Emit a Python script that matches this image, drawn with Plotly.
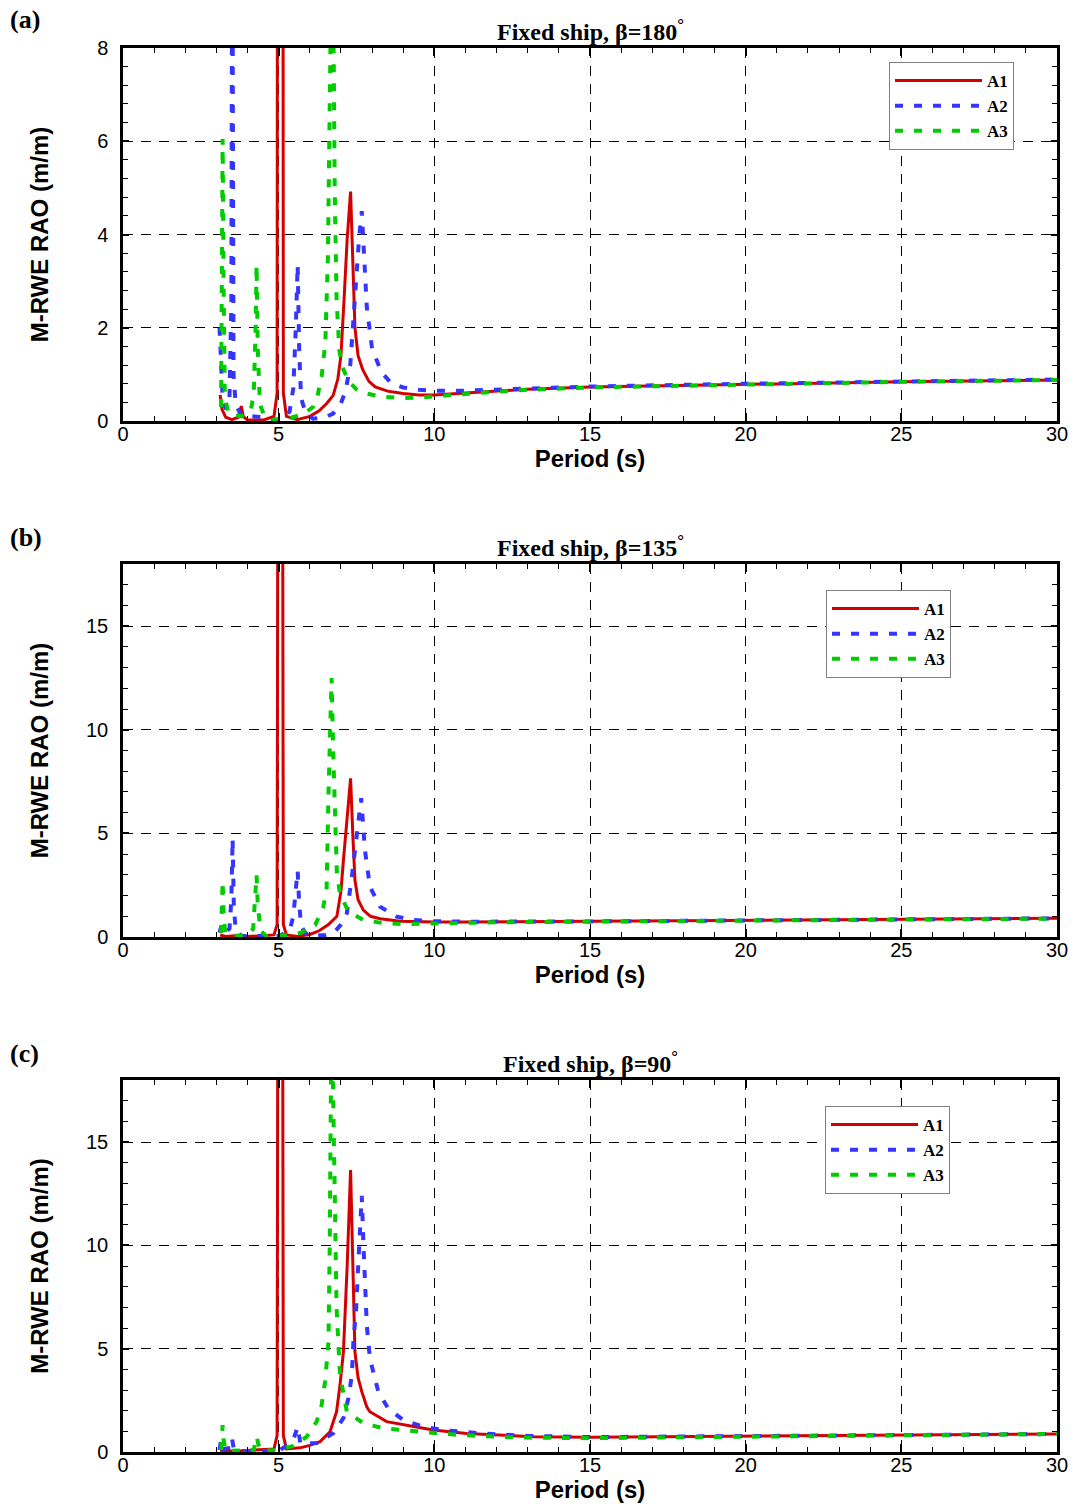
import plotly.graph_objects as go

# ---------------- data ----------------
# Panel (a) beta = 180
t_a1_180 = [3.12, 3.18, 3.3, 3.5, 3.7, 3.8, 3.86, 4.0, 4.5, 4.85, 4.95, 4.99, 5.11, 5.15, 5.25, 5.6, 6.0, 6.3, 6.55, 6.75, 6.9, 7.0, 7.1, 7.2, 7.31, 7.38, 7.45, 7.55, 7.7, 7.9, 8.1, 8.5, 9.0, 9.5, 10, 11, 12, 13, 15, 20, 25, 30]
r_a1_180 = [0.56, 0.25, 0.08, 0.03, 0.08, 0.32, 0.1, 0.02, 0.02, 0.1, 0.6, 40, 40, 0.6, 0.1, 0.03, 0.1, 0.22, 0.38, 0.55, 0.9, 1.4, 2.6, 3.9, 4.92, 3.3, 2.0, 1.4, 1.1, 0.85, 0.73, 0.64, 0.59, 0.56, 0.56, 0.6, 0.64, 0.68, 0.73, 0.79, 0.84, 0.88]

t_a2_180 = [3.1, 3.2, 3.3, 3.42, 3.48, 3.51, 3.55, 3.62, 3.8, 4.2, 4.5, 4.8, 5.1, 5.35, 5.47, 5.55, 5.61, 5.66, 5.72, 5.85, 6.1, 6.5, 6.75, 7.0, 7.15, 7.3, 7.45, 7.58, 7.67, 7.73, 7.83, 8.0, 8.3, 8.6, 9.0, 9.5, 10, 11, 12, 13, 15, 20, 25, 30]
r_a2_180 = [2.0, 0.5, 0.25, 0.5, 2.5, 12, 1.0, 0.35, 0.12, 0.1, 0.08, 0.02, 0.05, 0.2, 0.7, 2.0, 3.35, 1.5, 0.5, 0.2, 0.05, 0.08, 0.16, 0.38, 0.65, 1.2, 2.7, 3.9, 4.5, 3.6, 2.45, 1.55, 1.05, 0.82, 0.72, 0.67, 0.65, 0.65, 0.67, 0.69, 0.74, 0.8, 0.85, 0.89]

t_a3_180 = [3.15, 3.18, 3.2, 3.23, 3.27, 3.4, 3.8, 4.1, 4.2, 4.26, 4.29, 4.33, 4.4, 4.55, 4.8, 5.3, 5.8, 6.1, 6.25, 6.38, 6.5, 6.58, 6.63, 6.7, 6.76, 6.8, 6.86, 6.95, 7.05, 7.25, 7.5, 7.75, 8.3, 9.0, 9.5, 10, 11, 12, 13, 15, 20, 25, 30]
r_a3_180 = [0.3, 3.0, 6.05, 3.0, 0.5, 0.15, 0.1, 0.2, 0.6, 2.0, 3.35, 1.5, 0.35, 0.1, 0.02, 0.05, 0.15, 0.3, 0.55, 0.95, 1.7, 3.5, 6.0, 10, 8.5, 5.0, 2.6, 1.5, 1.15, 0.85, 0.68, 0.6, 0.52, 0.49, 0.5, 0.52, 0.58, 0.63, 0.67, 0.72, 0.79, 0.84, 0.88]

# Panel (b) beta = 135
t_a1_135 = [3.12, 3.3, 3.8, 4.0, 4.85, 4.95, 4.99, 5.11, 5.15, 5.25, 5.6, 6.0, 6.3, 6.6, 6.87, 7.0, 7.08, 7.19, 7.31, 7.38, 7.45, 7.55, 7.72, 7.95, 8.26, 8.9, 9.5, 10, 11, 12, 15, 20, 25, 30]
r_a1_135 = [0.1, 0.03, 0.08, 0.02, 0.1, 0.6, 40, 40, 0.6, 0.1, 0.03, 0.12, 0.3, 0.6, 1.0, 2.2, 3.7, 5.6, 7.66, 5.0, 2.75, 1.8, 1.3, 1.0, 0.88, 0.76, 0.72, 0.72, 0.72, 0.73, 0.75, 0.8, 0.85, 0.9]

t_a2_135 = [3.1, 3.15, 3.25, 3.42, 3.48, 3.52, 3.56, 3.62, 3.8, 4.5, 5.0, 5.35, 5.47, 5.55, 5.61, 5.66, 5.72, 5.85, 6.1, 6.5, 6.8, 7.0, 7.19, 7.35, 7.5, 7.65, 7.77, 7.93, 8.26, 8.79, 9.3, 10, 11, 12, 15, 20, 25, 30]
r_a2_135 = [0.2, 0.5, 0.15, 0.4, 1.8, 4.75, 1.5, 0.3, 0.05, 0.03, 0.05, 0.3, 1.0, 2.3, 3.2, 1.6, 0.55, 0.2, 0.05, 0.1, 0.25, 0.6, 1.15, 2.9, 4.84, 6.7, 4.2, 2.43, 1.46, 0.98, 0.82, 0.76, 0.74, 0.74, 0.75, 0.8, 0.85, 0.9]

t_a3_135 = [3.15, 3.18, 3.2, 3.23, 3.28, 3.5, 4.0, 4.18, 4.25, 4.29, 4.33, 4.42, 4.6, 5.3, 5.7, 6.17, 6.43, 6.54, 6.6, 6.7, 6.76, 6.81, 6.87, 6.97, 7.24, 7.72, 8.36, 9.0, 10, 11, 12, 15, 20, 25, 30]
r_a3_135 = [0.2, 1.5, 2.7, 1.3, 0.2, 0.05, 0.08, 0.4, 1.8, 3.0, 1.5, 0.3, 0.05, 0.08, 0.2, 0.58, 1.4, 2.35, 6.93, 12.5, 8.5, 5.3, 3.07, 2.1, 1.22, 0.82, 0.67, 0.62, 0.63, 0.68, 0.71, 0.74, 0.79, 0.84, 0.89]

# Panel (c) beta = 90
t_a1_90 = [3.12, 3.8, 4.85, 4.95, 4.99, 5.11, 5.15, 5.25, 5.69, 6.0, 6.33, 6.65, 6.86, 6.97, 7.08, 7.2, 7.31, 7.38, 7.45, 7.55, 7.67, 7.83, 7.93, 8.47, 8.9, 9.96, 11.04, 12.1, 13.2, 15, 18.3, 20, 25, 30]
r_a1_90 = [0.05, 0.06, 0.15, 0.8, 40, 40, 0.8, 0.15, 0.2, 0.32, 0.5, 0.98, 1.95, 3.24, 4.85, 9.0, 13.64, 9.0, 4.85, 3.6, 2.92, 2.19, 1.95, 1.47, 1.35, 1.06, 0.9, 0.82, 0.74, 0.71, 0.74, 0.76, 0.82, 0.87]

t_a2_90 = [3.1, 3.15, 3.22, 3.45, 3.5, 3.56, 3.8, 5.0, 5.45, 5.61, 5.7, 6.22, 6.76, 7.08, 7.24, 7.35, 7.4, 7.49, 7.56, 7.61, 7.67, 7.72, 7.77, 7.83, 7.93, 8.2, 8.52, 9.0, 9.65, 10.29, 11.47, 13, 15, 20, 25, 30]
r_a2_90 = [0.1, 0.6, 0.15, 0.2, 0.66, 0.15, 0.05, 0.05, 0.5, 1.22, 0.4, 0.43, 0.92, 1.64, 2.6, 3.72, 5.33, 6.96, 9.2, 11.1, 12.4, 10.17, 7.75, 6.14, 4.53, 2.92, 2.1, 1.55, 1.22, 1.06, 0.9, 0.78, 0.72, 0.76, 0.82, 0.87]

t_a3_90 = [3.15, 3.18, 3.2, 3.23, 3.3, 4.2, 4.27, 4.3, 4.34, 4.45, 5.0, 5.47, 5.9, 6.22, 6.38, 6.49, 6.6, 6.64, 6.7, 6.76, 6.81, 6.86, 6.97, 7.19, 7.72, 8.36, 9.54, 10.83, 12.65, 15, 20, 25, 30]
r_a3_90 = [0.1, 0.7, 1.3, 0.6, 0.05, 0.1, 0.5, 0.75, 0.4, 0.05, 0.1, 0.3, 0.74, 1.47, 2.27, 3.4, 5.33, 10, 22, 16.6, 11.8, 6.96, 3.72, 1.95, 1.39, 1.15, 0.98, 0.82, 0.7, 0.67, 0.74, 0.81, 0.87]

series_names = ["A1", "A2", "A3"]
panel_labels = ["(a)", "(b)", "(c)"]
panel_titles = ["Fixed ship, β=180<sup>°</sup>", "Fixed ship, β=135<sup>°</sup>", "Fixed ship, β=90<sup>°</sup>"]
x_label = "Period (s)"
y_label = "M-RWE RAO (m/m)"

panels = [
    [(t_a1_180, r_a1_180), (t_a2_180, r_a2_180), (t_a3_180, r_a3_180)],
    [(t_a1_135, r_a1_135), (t_a2_135, r_a2_135), (t_a3_135, r_a3_135)],
    [(t_a1_90, r_a1_90), (t_a2_90, r_a2_90), (t_a3_90, r_a3_90)],
]

# ---------------- styling / layout ----------------
W, H = 1072, 1504
ML, MR, MT, MB = 123, 15, 48, 52
PH = H - MT - MB

def py2paper(py):
    return (H - MB - py) / PH

def px2paper(px):
    return (px - ML) / (W - ML - MR)

domains = [(421, 48), (937, 564), (1452, 1080)]
yranges = [[0, 8], [0, 18], [0, 18]]
ydticks = [2, 5, 5]
yminor = [0.4, 1, 1]
ystandoff = [42, 31, 31]
legend_pos = [(889, 62), (826, 590), (825, 1106)]
label_y = [20, 537, 1053]
title_y = [30, 546, 1062]

colors = ["#d40000", "#3535ff", "#00cc00"]
dashes = ["solid", "8px,11px", "8px,11px"]
widths = [3, 4, 4]
LEG_KEYS = ["legend", "legend2", "legend3"]

fig = go.Figure()
for p, series in enumerate(panels):
    xa = "x" if p == 0 else f"x{p+1}"
    ya = "y" if p == 0 else f"y{p+1}"
    for s, (tt, rr) in enumerate(series):
        fig.add_trace(go.Scatter(
            x=tt, y=rr, mode="lines", name=series_names[s],
            line=dict(color=colors[s], width=widths[s], dash=dashes[s]),
            xaxis=xa, yaxis=ya, legend=LEG_KEYS[p], showlegend=True,
        ))

tick_font = dict(family="Liberation Sans, Arial", size=20, color="black")
title_font = dict(family="Liberation Sans, Arial", size=24, color="black", weight="bold")
serif_bold = "Liberation Serif, Times New Roman"

layout = dict(
    width=W, height=H,
    margin=dict(l=ML, r=MR, t=MT, b=MB, autoexpand=False),
    paper_bgcolor="white", plot_bgcolor="white",
    showlegend=True,
    annotations=[],
)

for p in range(3):
    xk = "xaxis" if p == 0 else f"xaxis{p+1}"
    yk = "yaxis" if p == 0 else f"yaxis{p+1}"
    ya = "y" if p == 0 else f"y{p+1}"
    xa = "x" if p == 0 else f"x{p+1}"
    bot, top = domains[p]
    layout[xk] = dict(
        domain=[0, 1], anchor=ya, range=[0, 30], tick0=0, dtick=5,
        showline=True, linecolor="black", linewidth=2.5, mirror="allticks",
        ticks="inside", ticklen=8, tickwidth=2, tickcolor="black",
        minor=dict(dtick=1, ticks="inside", ticklen=5, tickwidth=1, tickcolor="black", showgrid=False),
        showgrid=True, gridcolor="black", gridwidth=1, griddash="10px,8px",
        zeroline=False, tickfont=tick_font, ticklabelstandoff=-7,
        title=dict(text=x_label, font=title_font, standoff=2),
        automargin=False,
    )
    layout[yk] = dict(
        domain=[py2paper(bot), py2paper(top)], anchor=xa, range=yranges[p],
        tick0=0, dtick=ydticks[p],
        showline=True, linecolor="black", linewidth=2.5, mirror="allticks",
        ticks="inside", ticklen=6, tickwidth=2, tickcolor="black",
        minor=dict(dtick=yminor[p], ticks="inside", ticklen=5, tickwidth=1, tickcolor="black", showgrid=False),
        showgrid=True, gridcolor="black", gridwidth=1, griddash="10px,8px",
        zeroline=False, tickfont=tick_font, ticklabelstandoff=8,
        title=dict(text=y_label, font=title_font, standoff=ystandoff[p]),
        automargin=False,
    )
    lx, ly = legend_pos[p]
    layout[LEG_KEYS[p]] = dict(
        x=px2paper(lx), y=py2paper(ly), xanchor="left", yanchor="top",
        bgcolor="white", bordercolor="#808080", borderwidth=1,
        font=dict(family=serif_bold, size=17, color="black", weight="bold"),
        tracegroupgap=0, itemwidth=87,
    )
    layout["annotations"].append(dict(
        text=panel_labels[p], xref="paper", yref="paper",
        x=px2paper(8), y=py2paper(label_y[p]), xanchor="left", yanchor="middle",
        showarrow=False, font=dict(family=serif_bold, size=26, color="black", weight="bold"),
    ))
    layout["annotations"].append(dict(
        text=panel_titles[p], xref="paper", yref="paper",
        x=0.5, y=py2paper(title_y[p]), xanchor="center", yanchor="middle",
        showarrow=False, font=dict(family=serif_bold, size=24, color="black", weight="bold"),
    ))

fig.update_layout(**layout)
fig.write_html("out.html")
